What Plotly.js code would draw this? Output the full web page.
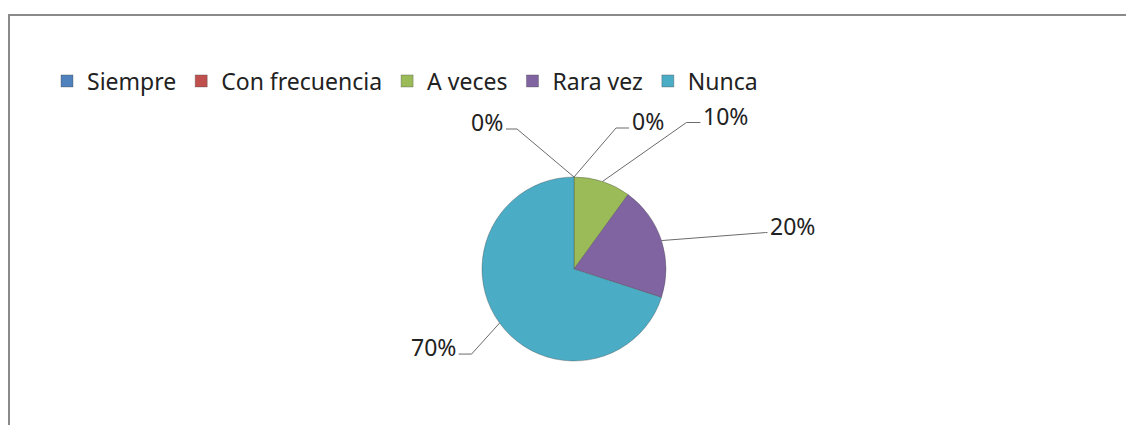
<!DOCTYPE html>
<html lang="es">
<head>
    <meta charset="UTF-8">
    <title>Frecuencia</title>
    <script src="https://cdn.plot.ly/plotly-3.0.1.min.js"></script>
    <style>
        body { margin: 0; padding: 0; background: white; }
        #plot { width: 1126px; height: 425px; }
    </style>
</head>
<body>
    <div id="plot"></div>
    <script>
        // data
        const categories = ['Siempre', 'Con frecuencia', 'A veces', 'Rara vez', 'Nunca'];
        const percents = [0, 0, 10, 20, 70];
        const sliceColors = ['#4F81BD', '#C0504D', '#9BBB59', '#8064A2', '#4BACC6'];

        const W = 1126, H = 425;
        // pie geometry in pixels (chart is drawn with zero margins)
        const cx = 574, cy = 269, r = 92;

        // leader line layout per label: elbow offset from the slice edge, horizontal run, text side
        const leaders = [
            {dx: -57, dy: -48, run: -11, side: 'right'},
            {dx: 42, dy: -49, run: 13, side: 'left'},
            {dx: 84, dy: -59, run: 14, side: 'left'},
            {dx: 104, dy: -8, run: 2, side: 'left'},
            {dx: -28, dy: 31, run: -13, side: 'right'}
        ];

        const px = x => x / W;
        const py = y => 1 - y / H;

        const total = percents.reduce((a, b) => a + b, 0);
        const shapes = [];
        const annotations = [];
        let cum = 0;
        percents.forEach((v, i) => {
            const mid = (cum + v / 2) / total;
            cum += v;
            const ang = 2 * Math.PI * mid;
            const ax = cx + r * Math.sin(ang);
            const ay = cy - r * Math.cos(ang);
            const L = leaders[i];
            const ex = ax + L.dx, ey = ay + L.dy;
            const tx = ex + L.run;
            shapes.push({
                type: 'path', xref: 'paper', yref: 'paper',
                path: `M ${px(ax)},${py(ay)} L ${px(ex)},${py(ey)} L ${px(tx)},${py(ey)}`,
                line: {color: '#6b6b6b', width: 1}
            });
            annotations.push({
                xref: 'paper', yref: 'paper',
                x: px(tx + (L.side === 'left' ? 1 : -1)), y: py(ey - 7),
                xanchor: L.side === 'left' ? 'left' : 'right', yanchor: 'middle',
                text: v + '%', showarrow: false,
                font: {family: 'Noto Sans, sans-serif', size: 23, color: '#222'}
            });
        });

        // chart frame (top and left edges visible)
        shapes.push({
            type: 'path', xref: 'paper', yref: 'paper',
            path: `M ${px(9)},-0.02 L ${px(9)},${py(15)} L 1.02,${py(15)}`,
            line: {color: '#8a8a8a', width: 2}
        });

        const trace = {
            type: 'pie',
            labels: categories,
            values: percents,
            sort: false,
            direction: 'clockwise',
            rotation: 0,
            textinfo: 'none',
            hoverinfo: 'label+percent',
            marker: {colors: sliceColors, line: {color: 'rgba(70,70,70,0.45)', width: 0.8}},
            domain: {x: [px(cx - r), px(cx + r)], y: [py(cy + r), py(cy - r)]}
        };

        const layout = {
            width: W,
            height: H,
            margin: {t: 0, r: 0, b: 0, l: 0},
            paper_bgcolor: 'white',
            showlegend: true,
            legend: {
                orientation: 'h',
                x: px(47), xanchor: 'left',
                y: py(81), yanchor: 'middle',
                font: {family: 'Noto Sans, sans-serif', size: 23, color: '#222'},
                itemclick: false
            },
            shapes: shapes,
            annotations: annotations
        };

        Plotly.newPlot('plot', [trace], layout, {displayModeBar: false, staticPlot: true});
    </script>
</body>
</html>
